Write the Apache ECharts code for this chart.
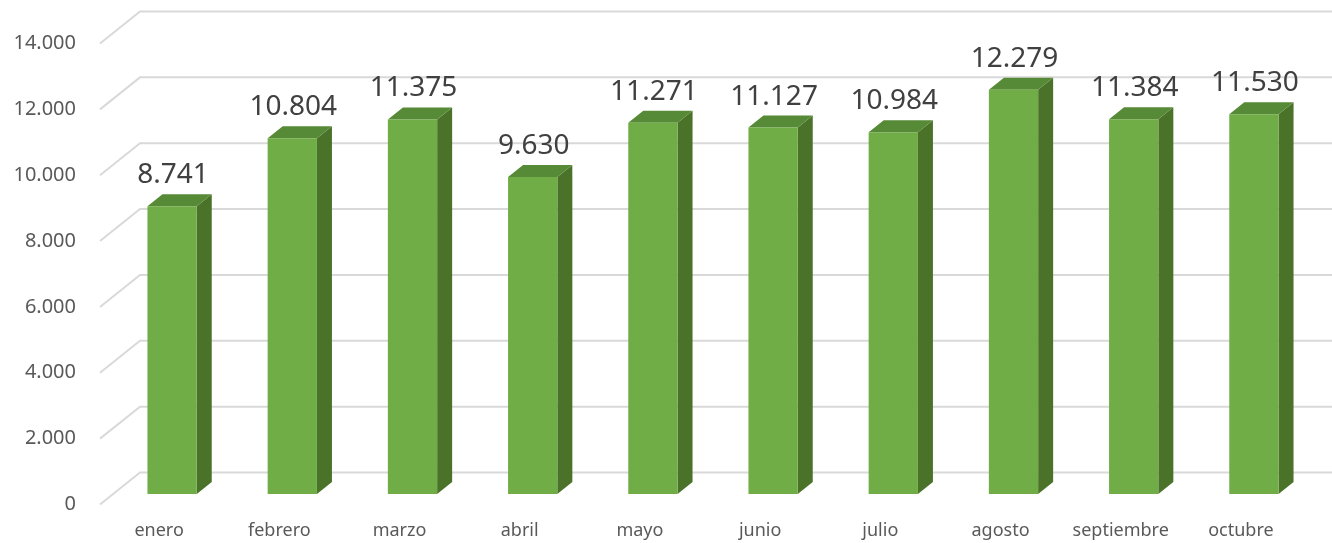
<!DOCTYPE html>
<html>
<head>
<meta charset="utf-8">
<script src="https://cdn.jsdelivr.net/npm/echarts@6/dist/echarts.min.js"></script>
<style>
html, body { margin: 0; padding: 0; background: #fff; }
#chart { width: 1332px; height: 543px; }
</style>
</head>
<body>
<div id="chart"></div>
<script>
var months = ['enero', 'febrero', 'marzo', 'abril', 'mayo', 'junio', 'julio', 'agosto', 'septiembre', 'octubre'];
var totals = [8741, 10804, 11375, 9630, 11271, 11127, 10984, 12279, 11384, 11530];
var yTicks = [0, 2000, 4000, 6000, 8000, 10000, 12000, 14000];

function fmt(v) {
    return String(v).replace(/\B(?=(\d{3})+(?!\d))/g, '.');
}

var myChart = echarts.init(document.getElementById('chart'));

// bar depth (dx, dy) and offset from bar plane to back wall
var DX = 15, DY = -12;
var WALL_DX = 28, WALL_DY = -21.5;

var option = {
    animation: false,
    grid: { left: 112, right: 18, top: 33, bottom: 49 },
    xAxis: {
        type: 'category',
        data: months,
        axisLine: { show: false },
        axisTick: { show: false },
        axisLabel: {
            interval: 0,
            margin: 28,
            fontSize: 18,
            fontFamily: 'Noto Sans',
            color: '#595959',
            padding: [0, 26, 0, 0]
        }
    },
    yAxis: {
        type: 'value',
        min: 0,
        max: 14000,
        interval: 2000,
        axisLine: { show: false },
        axisTick: { show: false },
        splitLine: { show: false },
        axisLabel: { show: false }
    },
    series: [{
        // floor and wall gridlines with value labels
        type: 'custom',
        z: 1,
        data: yTicks.map(function (t) { return [0, t]; }),
        renderItem: function (params, api) {
            var cs = params.coordSys;
            var y = api.coord([0, api.value(1)])[1];
            var backY = y + WALL_DY;
            var cornerX = cs.x + WALL_DX;
            var frontX = cornerX - 40, frontY = backY + 32;
            var ls = { stroke: '#d9d9d9', lineWidth: 2, fill: null };
            return {
                type: 'group',
                children: [
                    { type: 'polyline', shape: { points: [[frontX, frontY], [cornerX, backY], [api.getWidth(), backY]] }, style: ls },
                    { type: 'text', style: {
                        x: 76, y: frontY, text: fmt(api.value(1)),
                        align: 'right', verticalAlign: 'middle',
                        fontSize: 20, fontFamily: 'Noto Sans', fill: '#595959'
                    } }
                ]
            };
        }
    }, {
        type: 'custom',
        z: 2,
        data: totals.map(function (v, i) { return [i, v]; }),
        renderItem: function (params, api) {
            var top = api.coord([api.value(0), api.value(1)]);
            var bot = api.coord([api.value(0), 0]);
            var w = api.size([1, 0])[0] * 0.41;
            var l = top[0] - w / 2, r = top[0] + w / 2;
            var t = top[1], b = bot[1];
            return {
                type: 'group',
                children: [
                    { type: 'polygon', shape: { points: [[r, t], [r + DX, t + DY], [r + DX, b + DY], [r, b]] }, style: { fill: '#4a7229' } },
                    { type: 'polygon', shape: { points: [[l, t], [l + DX, t + DY], [r + DX, t + DY], [r, t]] }, style: { fill: '#578a36' } },
                    { type: 'rect', shape: { x: l, y: t, width: w, height: b - t }, style: { fill: '#70ad47' } },
                    { type: 'text', style: {
                        x: top[0] + 1, y: t + DY - 5, text: fmt(api.value(1)),
                        align: 'center', verticalAlign: 'bottom',
                        fontSize: 28, fontFamily: 'Noto Sans', fill: '#404040'
                    } }
                ]
            };
        }
    }]
};
myChart.setOption(option);
</script>
</body>
</html>
